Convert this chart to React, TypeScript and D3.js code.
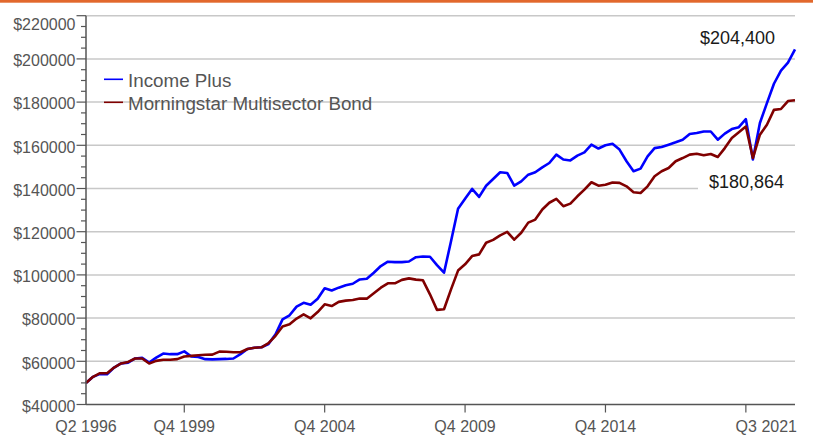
import { useEffect, useRef } from 'react';
import * as d3 from 'd3';

// quarterly growth of $50,000, Q2 1996 .. Q3 2021
const incomePlus = [
  50000, 52800, 54200, 54000, 57100, 59000, 59400, 61300, 61600, 59400,
  61700, 63600, 63300, 63300, 64600, 62200, 62000, 61000, 60900, 61000,
  61100, 61300, 63300, 65700, 66300, 66500, 68000, 72500, 79400, 81300,
  85300, 87100, 86200, 89000, 93800, 92800, 94100, 95200, 95900, 97900,
  98200, 101000, 104100, 106100, 105900, 105900, 106200, 108200, 108500, 108400,
  104500, 101000, 115600, 130600, 135200, 139800, 136100, 141300, 144400, 147500,
  147200, 141300, 143300, 146400, 147500, 149800, 151800, 155700, 153400, 153000,
  155200, 156700, 160300, 158500, 160000, 160700, 158000, 152600, 148000, 149200,
  154900, 158700, 159200, 160300, 161400, 162600, 165200, 165700, 166400, 166400,
  162600, 165400, 167500, 168400, 172100, 153400, 170300, 179500, 188500, 194600,
  198300, 204400,
];

const multisectorBond = [
  50000, 52800, 54500, 54500, 57100, 59000, 59700, 61300, 61300, 59000,
  60200, 60700, 60700, 61000, 62200, 62500, 62800, 63000, 63100, 64500,
  64400, 64200, 64200, 65700, 66300, 66500, 68400, 71800, 76100, 77100,
  79800, 81700, 79900, 82800, 86400, 85600, 87500, 88100, 88400, 89100,
  89000, 91500, 94100, 96100, 96100, 97700, 98400, 97800, 97500, 91000,
  83800, 84100, 93300, 102000, 104900, 108700, 109500, 114900, 116200, 118300,
  119900, 116300, 119500, 124200, 125600, 130300, 133400, 135200, 131800, 133000,
  136400, 139500, 142900, 141300, 141700, 142800, 142600, 141000, 138300, 137900,
  141000, 145700, 148000, 149500, 152600, 154100, 155700, 156100, 155400, 156000,
  154600, 158700, 163400, 166000, 168700, 154100, 164900, 169500, 176400, 176800,
  180500, 180864,
];

const seriesNames = ['Income Plus', 'Morningstar Multisector Bond'];
const seriesColors = ['#0000ff', '#800000'];
const endLabels = ['$204,400', '$180,864'];

const xLabels = ['Q2 1996', 'Q4 1999', 'Q4 2004', 'Q4 2009', 'Q4 2014'];
const xLabelIndex = [0, 14, 34, 54, 74];
const xTickIndex = [14, 34, 54, 74, 94];
const lastLabel = 'Q3 2021';

const yMajor = [40000, 60000, 80000, 100000, 120000, 140000, 160000, 180000, 200000, 220000];

export default function App() {
  const svgRef = useRef<SVGSVGElement>(null);

  useEffect(() => {
    if (!svgRef.current) return;
    const svg = d3.select(svgRef.current);
    svg.selectAll('*').remove();

    const font = "'Liberation Sans', Arial, sans-serif";
    const x = d3.scaleLinear().domain([0, incomePlus.length - 1]).range([86, 795]);
    const y = d3.scaleLinear().domain([40000, 220000]).range([404.5, 15.7]);
    const x0 = x(0);
    const x1 = x(incomePlus.length - 1);

    // orange rule at the top
    svg.append('rect').attr('x', 0).attr('y', 0).attr('width', 813).attr('height', 2.7).attr('fill', '#e2682c');

    // gridlines
    svg
      .selectAll('.grid')
      .data(yMajor.slice(1))
      .enter()
      .append('line')
      .attr('x1', x0)
      .attr('x2', x1)
      .attr('y1', d => y(d))
      .attr('y2', d => y(d))
      .attr('stroke', '#c8c8c8')
      .attr('stroke-width', 1.5);

    // white box behind the lower end label
    svg.append('rect').attr('x', 698).attr('y', 168).attr('width', 99).attr('height', 27).attr('fill', '#fff');

    // series
    const line = d3
      .line<number>()
      .x((d, i) => x(i))
      .y(d => y(d));

    [incomePlus, multisectorBond].forEach((s, k) => {
      svg
        .append('path')
        .datum(s)
        .attr('d', line)
        .attr('fill', 'none')
        .attr('stroke', seriesColors[k])
        .attr('stroke-width', 2.6)
        .attr('stroke-linejoin', 'round');
    });

    // axes
    const axisColor = '#555';
    svg.append('line').attr('x1', x0).attr('x2', x0).attr('y1', y(220000)).attr('y2', y(40000))
      .attr('stroke', axisColor).attr('stroke-width', 1.5);
    svg.append('line').attr('x1', x0).attr('x2', x1).attr('y1', y(40000)).attr('y2', y(40000))
      .attr('stroke', axisColor).attr('stroke-width', 1.5);

    const minor = d3.range(40000, 220001, 5000).filter(v => v % 20000 !== 0);
    svg.selectAll('.ymin').data(minor).enter().append('line')
      .attr('x1', x0 - 5).attr('x2', x0).attr('y1', d => y(d)).attr('y2', d => y(d))
      .attr('stroke', axisColor).attr('stroke-width', 1.2);
    svg.selectAll('.ymaj').data(yMajor).enter().append('line')
      .attr('x1', x0 - 9.5).attr('x2', x0).attr('y1', d => y(d)).attr('y2', d => y(d))
      .attr('stroke', axisColor).attr('stroke-width', 1.2);

    svg.selectAll('.ylab').data(yMajor).enter().append('text')
      .attr('x', 75.5)
      .attr('y', d => y(d) + (d === 220000 ? 14.3 : 7.3))
      .attr('text-anchor', 'end')
      .style('font-family', font)
      .style('font-size', '16px')
      .attr('fill', '#555')
      .text(d => `$${d}`);

    svg.selectAll('.xtick').data(xTickIndex).enter().append('line')
      .attr('x1', d => x(d)).attr('x2', d => x(d))
      .attr('y1', y(40000)).attr('y2', y(40000) + 8)
      .attr('stroke', axisColor).attr('stroke-width', 1.2);

    svg.selectAll('.xlab').data(xLabels).enter().append('text')
      .attr('x', (d, i) => x(xLabelIndex[i]))
      .attr('y', 431.5)
      .attr('text-anchor', 'middle')
      .style('font-family', font)
      .style('font-size', '16px')
      .attr('fill', '#555')
      .text(d => d);
    svg.append('text')
      .attr('x', x1 + 2)
      .attr('y', 431.5)
      .attr('text-anchor', 'end')
      .style('font-family', font)
      .style('font-size', '16px')
      .attr('fill', '#555')
      .text(lastLabel);

    // legend
    seriesNames.forEach((name, k) => {
      const ly = 79.3 + k * 23;
      svg.append('line').attr('x1', 104).attr('x2', 123).attr('y1', ly).attr('y2', ly)
        .attr('stroke', seriesColors[k]).attr('stroke-width', 1.6);
      svg.append('text').attr('x', 128).attr('y', ly + 7.5)
        .style('font-family', font).style('font-size', '18.8px').attr('fill', '#555')
        .text(name);
    });

    // end labels
    svg.append('text').attr('x', 700).attr('y', 43.5)
      .style('font-family', font).style('font-size', '18px').attr('fill', '#1a1a1a')
      .text(endLabels[0]);
    svg.append('text').attr('x', 709).attr('y', 187.5)
      .style('font-family', font).style('font-size', '18px').attr('fill', '#1a1a1a')
      .text(endLabels[1]);
  }, []);

  return (
    <svg
      ref={svgRef}
      width={813}
      height={435}
      style={{ position: 'absolute', left: 0, top: 0, background: '#fff' }}
    ></svg>
  );
}
